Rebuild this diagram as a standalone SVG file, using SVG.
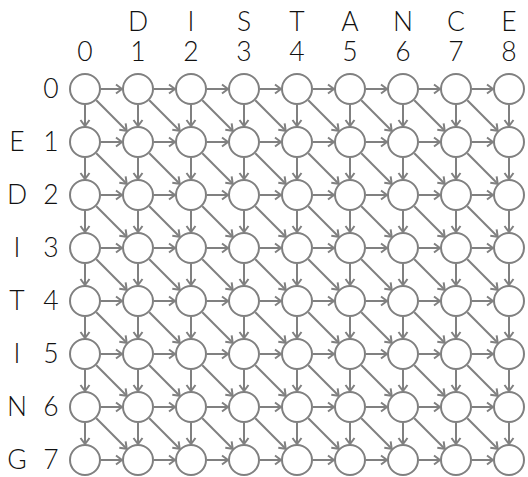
<svg xmlns="http://www.w3.org/2000/svg" width="528" height="477" viewBox="0 0 528 477">
<style>
.n circle{fill:#fff;stroke:#808080;stroke-width:2}
.e path{fill:none;stroke:#808080;stroke-width:2;marker-end:url(#ah)}
text{font-family:"Lato","Open Sans",sans-serif;font-weight:300;font-size:26.5px;fill:#111;text-anchor:middle}
</style>
<defs>
<marker id="ah" markerUnits="userSpaceOnUse" markerWidth="12" markerHeight="12" refX="8" refY="6" orient="auto" viewBox="0 0 12 12">
<path d="M2,1.5 L8,6 L2,10.5" fill="none" stroke="#808080" stroke-width="2"/>
</marker>
</defs>
<rect width="528" height="477" fill="#fff"/>
<g id="col-labels">
<text x="138" y="31">D</text><text x="191" y="31">I</text><text x="244" y="31">S</text><text x="297" y="31">T</text><text x="350" y="31">A</text><text x="403" y="31">N</text><text x="456" y="31">C</text><text x="509" y="31">E</text>
<text x="85" y="61">0</text><text x="138" y="61">1</text><text x="191" y="61">2</text><text x="244" y="61">3</text><text x="297" y="61">4</text><text x="350" y="61">5</text><text x="403" y="61">6</text><text x="456" y="61">7</text><text x="509" y="61">8</text>
</g>
<g id="row-labels">
<text x="51" y="98">0</text><text x="51" y="151">1</text><text x="51" y="204">2</text><text x="51" y="257">3</text><text x="51" y="310">4</text><text x="51" y="363">5</text><text x="51" y="416">6</text><text x="51" y="469">7</text>
<text x="17" y="151">E</text><text x="17" y="204">D</text><text x="17" y="257">I</text><text x="17" y="310">T</text><text x="17" y="363">I</text><text x="17" y="416">N</text><text x="17" y="469">G</text>
</g>
<g id="connectors" class="e">
<path d="M101,89h21"/><path d="M154,89h21"/><path d="M207,89h21"/><path d="M260,89h21"/><path d="M313,89h21"/><path d="M366,89h21"/><path d="M419,89h21"/><path d="M472,89h21"/>
<path d="M101,142h21"/><path d="M154,142h21"/><path d="M207,142h21"/><path d="M260,142h21"/><path d="M313,142h21"/><path d="M366,142h21"/><path d="M419,142h21"/><path d="M472,142h21"/>
<path d="M101,195h21"/><path d="M154,195h21"/><path d="M207,195h21"/><path d="M260,195h21"/><path d="M313,195h21"/><path d="M366,195h21"/><path d="M419,195h21"/><path d="M472,195h21"/>
<path d="M101,248h21"/><path d="M154,248h21"/><path d="M207,248h21"/><path d="M260,248h21"/><path d="M313,248h21"/><path d="M366,248h21"/><path d="M419,248h21"/><path d="M472,248h21"/>
<path d="M101,301h21"/><path d="M154,301h21"/><path d="M207,301h21"/><path d="M260,301h21"/><path d="M313,301h21"/><path d="M366,301h21"/><path d="M419,301h21"/><path d="M472,301h21"/>
<path d="M101,354h21"/><path d="M154,354h21"/><path d="M207,354h21"/><path d="M260,354h21"/><path d="M313,354h21"/><path d="M366,354h21"/><path d="M419,354h21"/><path d="M472,354h21"/>
<path d="M101,407h21"/><path d="M154,407h21"/><path d="M207,407h21"/><path d="M260,407h21"/><path d="M313,407h21"/><path d="M366,407h21"/><path d="M419,407h21"/><path d="M472,407h21"/>
<path d="M101,460h21"/><path d="M154,460h21"/><path d="M207,460h21"/><path d="M260,460h21"/><path d="M313,460h21"/><path d="M366,460h21"/><path d="M419,460h21"/><path d="M472,460h21"/>
<path d="M85,105v21"/><path d="M85,158v21"/><path d="M85,211v21"/><path d="M85,264v21"/><path d="M85,317v21"/><path d="M85,370v21"/><path d="M85,423v21"/>
<path d="M138,105v21"/><path d="M138,158v21"/><path d="M138,211v21"/><path d="M138,264v21"/><path d="M138,317v21"/><path d="M138,370v21"/><path d="M138,423v21"/>
<path d="M191,105v21"/><path d="M191,158v21"/><path d="M191,211v21"/><path d="M191,264v21"/><path d="M191,317v21"/><path d="M191,370v21"/><path d="M191,423v21"/>
<path d="M244,105v21"/><path d="M244,158v21"/><path d="M244,211v21"/><path d="M244,264v21"/><path d="M244,317v21"/><path d="M244,370v21"/><path d="M244,423v21"/>
<path d="M297,105v21"/><path d="M297,158v21"/><path d="M297,211v21"/><path d="M297,264v21"/><path d="M297,317v21"/><path d="M297,370v21"/><path d="M297,423v21"/>
<path d="M350,105v21"/><path d="M350,158v21"/><path d="M350,211v21"/><path d="M350,264v21"/><path d="M350,317v21"/><path d="M350,370v21"/><path d="M350,423v21"/>
<path d="M403,105v21"/><path d="M403,158v21"/><path d="M403,211v21"/><path d="M403,264v21"/><path d="M403,317v21"/><path d="M403,370v21"/><path d="M403,423v21"/>
<path d="M456,105v21"/><path d="M456,158v21"/><path d="M456,211v21"/><path d="M456,264v21"/><path d="M456,317v21"/><path d="M456,370v21"/><path d="M456,423v21"/>
<path d="M509,105v21"/><path d="M509,158v21"/><path d="M509,211v21"/><path d="M509,264v21"/><path d="M509,317v21"/><path d="M509,370v21"/><path d="M509,423v21"/>
<path d="M96.3,100.3l30.4,30.4"/><path d="M149.3,100.3l30.4,30.4"/><path d="M202.3,100.3l30.4,30.4"/><path d="M255.3,100.3l30.4,30.4"/><path d="M308.3,100.3l30.4,30.4"/><path d="M361.3,100.3l30.4,30.4"/><path d="M414.3,100.3l30.4,30.4"/><path d="M467.3,100.3l30.4,30.4"/>
<path d="M96.3,153.3l30.4,30.4"/><path d="M149.3,153.3l30.4,30.4"/><path d="M202.3,153.3l30.4,30.4"/><path d="M255.3,153.3l30.4,30.4"/><path d="M308.3,153.3l30.4,30.4"/><path d="M361.3,153.3l30.4,30.4"/><path d="M414.3,153.3l30.4,30.4"/><path d="M467.3,153.3l30.4,30.4"/>
<path d="M96.3,206.3l30.4,30.4"/><path d="M149.3,206.3l30.4,30.4"/><path d="M202.3,206.3l30.4,30.4"/><path d="M255.3,206.3l30.4,30.4"/><path d="M308.3,206.3l30.4,30.4"/><path d="M361.3,206.3l30.4,30.4"/><path d="M414.3,206.3l30.4,30.4"/><path d="M467.3,206.3l30.4,30.4"/>
<path d="M96.3,259.3l30.4,30.4"/><path d="M149.3,259.3l30.4,30.4"/><path d="M202.3,259.3l30.4,30.4"/><path d="M255.3,259.3l30.4,30.4"/><path d="M308.3,259.3l30.4,30.4"/><path d="M361.3,259.3l30.4,30.4"/><path d="M414.3,259.3l30.4,30.4"/><path d="M467.3,259.3l30.4,30.4"/>
<path d="M96.3,312.3l30.4,30.4"/><path d="M149.3,312.3l30.4,30.4"/><path d="M202.3,312.3l30.4,30.4"/><path d="M255.3,312.3l30.4,30.4"/><path d="M308.3,312.3l30.4,30.4"/><path d="M361.3,312.3l30.4,30.4"/><path d="M414.3,312.3l30.4,30.4"/><path d="M467.3,312.3l30.4,30.4"/>
<path d="M96.3,365.3l30.4,30.4"/><path d="M149.3,365.3l30.4,30.4"/><path d="M202.3,365.3l30.4,30.4"/><path d="M255.3,365.3l30.4,30.4"/><path d="M308.3,365.3l30.4,30.4"/><path d="M361.3,365.3l30.4,30.4"/><path d="M414.3,365.3l30.4,30.4"/><path d="M467.3,365.3l30.4,30.4"/>
<path d="M96.3,418.3l30.4,30.4"/><path d="M149.3,418.3l30.4,30.4"/><path d="M202.3,418.3l30.4,30.4"/><path d="M255.3,418.3l30.4,30.4"/><path d="M308.3,418.3l30.4,30.4"/><path d="M361.3,418.3l30.4,30.4"/><path d="M414.3,418.3l30.4,30.4"/><path d="M467.3,418.3l30.4,30.4"/>
</g>
<g id="nodes" class="n">
<g id="n0-0"><circle cx="85" cy="89" r="15"/></g><g id="n0-1"><circle cx="138" cy="89" r="15"/></g><g id="n0-2"><circle cx="191" cy="89" r="15"/></g><g id="n0-3"><circle cx="244" cy="89" r="15"/></g><g id="n0-4"><circle cx="297" cy="89" r="15"/></g><g id="n0-5"><circle cx="350" cy="89" r="15"/></g><g id="n0-6"><circle cx="403" cy="89" r="15"/></g><g id="n0-7"><circle cx="456" cy="89" r="15"/></g><g id="n0-8"><circle cx="509" cy="89" r="15"/></g>
<g id="n1-0"><circle cx="85" cy="142" r="15"/></g><g id="n1-1"><circle cx="138" cy="142" r="15"/></g><g id="n1-2"><circle cx="191" cy="142" r="15"/></g><g id="n1-3"><circle cx="244" cy="142" r="15"/></g><g id="n1-4"><circle cx="297" cy="142" r="15"/></g><g id="n1-5"><circle cx="350" cy="142" r="15"/></g><g id="n1-6"><circle cx="403" cy="142" r="15"/></g><g id="n1-7"><circle cx="456" cy="142" r="15"/></g><g id="n1-8"><circle cx="509" cy="142" r="15"/></g>
<g id="n2-0"><circle cx="85" cy="195" r="15"/></g><g id="n2-1"><circle cx="138" cy="195" r="15"/></g><g id="n2-2"><circle cx="191" cy="195" r="15"/></g><g id="n2-3"><circle cx="244" cy="195" r="15"/></g><g id="n2-4"><circle cx="297" cy="195" r="15"/></g><g id="n2-5"><circle cx="350" cy="195" r="15"/></g><g id="n2-6"><circle cx="403" cy="195" r="15"/></g><g id="n2-7"><circle cx="456" cy="195" r="15"/></g><g id="n2-8"><circle cx="509" cy="195" r="15"/></g>
<g id="n3-0"><circle cx="85" cy="248" r="15"/></g><g id="n3-1"><circle cx="138" cy="248" r="15"/></g><g id="n3-2"><circle cx="191" cy="248" r="15"/></g><g id="n3-3"><circle cx="244" cy="248" r="15"/></g><g id="n3-4"><circle cx="297" cy="248" r="15"/></g><g id="n3-5"><circle cx="350" cy="248" r="15"/></g><g id="n3-6"><circle cx="403" cy="248" r="15"/></g><g id="n3-7"><circle cx="456" cy="248" r="15"/></g><g id="n3-8"><circle cx="509" cy="248" r="15"/></g>
<g id="n4-0"><circle cx="85" cy="301" r="15"/></g><g id="n4-1"><circle cx="138" cy="301" r="15"/></g><g id="n4-2"><circle cx="191" cy="301" r="15"/></g><g id="n4-3"><circle cx="244" cy="301" r="15"/></g><g id="n4-4"><circle cx="297" cy="301" r="15"/></g><g id="n4-5"><circle cx="350" cy="301" r="15"/></g><g id="n4-6"><circle cx="403" cy="301" r="15"/></g><g id="n4-7"><circle cx="456" cy="301" r="15"/></g><g id="n4-8"><circle cx="509" cy="301" r="15"/></g>
<g id="n5-0"><circle cx="85" cy="354" r="15"/></g><g id="n5-1"><circle cx="138" cy="354" r="15"/></g><g id="n5-2"><circle cx="191" cy="354" r="15"/></g><g id="n5-3"><circle cx="244" cy="354" r="15"/></g><g id="n5-4"><circle cx="297" cy="354" r="15"/></g><g id="n5-5"><circle cx="350" cy="354" r="15"/></g><g id="n5-6"><circle cx="403" cy="354" r="15"/></g><g id="n5-7"><circle cx="456" cy="354" r="15"/></g><g id="n5-8"><circle cx="509" cy="354" r="15"/></g>
<g id="n6-0"><circle cx="85" cy="407" r="15"/></g><g id="n6-1"><circle cx="138" cy="407" r="15"/></g><g id="n6-2"><circle cx="191" cy="407" r="15"/></g><g id="n6-3"><circle cx="244" cy="407" r="15"/></g><g id="n6-4"><circle cx="297" cy="407" r="15"/></g><g id="n6-5"><circle cx="350" cy="407" r="15"/></g><g id="n6-6"><circle cx="403" cy="407" r="15"/></g><g id="n6-7"><circle cx="456" cy="407" r="15"/></g><g id="n6-8"><circle cx="509" cy="407" r="15"/></g>
<g id="n7-0"><circle cx="85" cy="460" r="15"/></g><g id="n7-1"><circle cx="138" cy="460" r="15"/></g><g id="n7-2"><circle cx="191" cy="460" r="15"/></g><g id="n7-3"><circle cx="244" cy="460" r="15"/></g><g id="n7-4"><circle cx="297" cy="460" r="15"/></g><g id="n7-5"><circle cx="350" cy="460" r="15"/></g><g id="n7-6"><circle cx="403" cy="460" r="15"/></g><g id="n7-7"><circle cx="456" cy="460" r="15"/></g><g id="n7-8"><circle cx="509" cy="460" r="15"/></g>
</g>
</svg>
